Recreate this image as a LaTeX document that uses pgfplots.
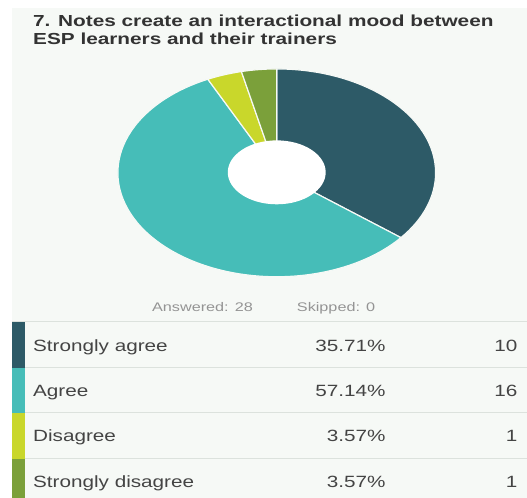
\documentclass[border=0pt]{standalone}
\usepackage{pgfplots}
\usepackage{pgfplotstable}
\pgfplotsset{compat=1.18}
\usepackage{fontspec}
\setmainfont{Liberation Sans}
\definecolor{bgc}{HTML}{F6F9F6}
\definecolor{cSA}{HTML}{2D5A67}
\definecolor{cA}{HTML}{46BDB8}
\definecolor{cD}{HTML}{C9D72B}
\definecolor{cSD}{HTML}{7BA03A}
\definecolor{titlec}{HTML}{333333}
\definecolor{txt}{HTML}{444444}
\definecolor{sep}{HTML}{DCE2DD}
\pgfplotstableread{
label count
SA 10
A 16
D 1
SD 1
}\data
\newcommand{\rowtext}[1]{\fontsize{16.3bp}{18bp}\selectfont\scalebox{1.27}[1]{#1}}
\newcommand{\smalltext}[1]{\fontsize{12.5bp}{14bp}\selectfont\scalebox{1.3}[1]{#1}}
\newcommand{\titletext}[1]{\fontsize{16bp}{18bp}\selectfont\bfseries\scalebox{1.3}[1]{#1}}
\begin{document}
\begin{tikzpicture}
\pgfplotstablegetelem{0}{count}\of\data \let\cSA\pgfplotsretval
\pgfplotstablegetelem{1}{count}\of\data \let\cAg\pgfplotsretval
\pgfplotstablegetelem{2}{count}\of\data \let\cDi\pgfplotsretval
\pgfplotstablegetelem{3}{count}\of\data \let\cSD\pgfplotsretval
\pgfmathsetmacro\tot{\cSA+\cAg+\cDi+\cSD}
\pgfmathsetmacro\aZ{90}
\pgfmathsetmacro\aA{\aZ-360*\cSA/\tot}
\pgfmathsetmacro\aB{\aA-360*\cAg/\tot}
\pgfmathsetmacro\aC{\aB-360*\cDi/\tot}
\pgfmathsetmacro\aD{\aC-360*\cSD/\tot}
\begin{axis}[
  width=527bp, height=498bp, scale only axis,
  xmin=0, xmax=527, ymin=0, ymax=498, y dir=reverse,
  hide axis, clip=false]
\fill[white] (axis cs:0,0) rectangle (axis cs:527,498);
\fill[bgc] (axis cs:12,8) rectangle (axis cs:527,498);
% title
\node[anchor=base west, inner sep=0pt, text=titlec] at (axis cs:33,27) {\titletext{7. Notes create an interactional mood between}};
\node[anchor=base west, inner sep=0pt, text=titlec] at (axis cs:33,45) {\titletext{ESP learners and their trainers}};
% donut
\fill[cSA, draw=bgc, line width=1.2pt] (axis cs:277,173) -- ++(\aZ:159bp and 104bp) arc[start angle=\aZ, end angle=\aA, x radius=159bp, y radius=104bp] -- cycle;
\fill[cA, draw=bgc, line width=1.2pt] (axis cs:277,173) -- ++(\aA:159bp and 104bp) arc[start angle=\aA, end angle=\aB, x radius=159bp, y radius=104bp] -- cycle;
\fill[cD, draw=bgc, line width=1.2pt] (axis cs:277,173) -- ++(\aB:159bp and 104bp) arc[start angle=\aB, end angle=\aC, x radius=159bp, y radius=104bp] -- cycle;
\fill[cSD, draw=bgc, line width=1.2pt] (axis cs:277,173) -- ++(\aC:159bp and 104bp) arc[start angle=\aC, end angle=\aD, x radius=159bp, y radius=104bp] -- cycle;
\fill[white] (axis cs:277,172.5) ellipse[x radius=49bp, y radius=32bp];
% answered / skipped
\node[anchor=base west, inner sep=0pt, text=black!42] at (axis cs:152,312) {\smalltext{Answered: 28}};
\node[anchor=base west, inner sep=0pt, text=black!42] at (axis cs:297,312) {\smalltext{Skipped: 0}};
% table separators
\draw[sep, line width=1pt] (axis cs:12,322) -- (axis cs:527,322);
\draw[sep, line width=1pt] (axis cs:12,368) -- (axis cs:527,368);
\draw[sep, line width=1pt] (axis cs:12,413) -- (axis cs:527,413);
\draw[sep, line width=1pt] (axis cs:12,459) -- (axis cs:527,459);
% color bars
\fill[cSA] (axis cs:12,322) rectangle (axis cs:25,368);
\fill[cA] (axis cs:12,368) rectangle (axis cs:25,413);
\fill[cD] (axis cs:12,413) rectangle (axis cs:25,459);
\fill[cSD] (axis cs:12,459) rectangle (axis cs:25,498);
% rows
\node[anchor=base west, inner sep=0pt, text=txt] at (axis cs:33,352) {\rowtext{Strongly agree}};
\node[anchor=base west, inner sep=0pt, text=txt] at (axis cs:33,397) {\rowtext{Agree}};
\node[anchor=base west, inner sep=0pt, text=txt] at (axis cs:33,442) {\rowtext{Disagree}};
\node[anchor=base west, inner sep=0pt, text=txt] at (axis cs:33,488) {\rowtext{Strongly disagree}};
\node[anchor=base east, inner sep=0pt, text=txt] at (axis cs:386,352) {\rowtext{35.71\%}};
\node[anchor=base east, inner sep=0pt, text=txt] at (axis cs:386,397) {\rowtext{57.14\%}};
\node[anchor=base east, inner sep=0pt, text=txt] at (axis cs:386,442) {\rowtext{3.57\%}};
\node[anchor=base east, inner sep=0pt, text=txt] at (axis cs:386,488) {\rowtext{3.57\%}};
\node[anchor=base east, inner sep=0pt, text=txt] at (axis cs:518,352) {\rowtext{10}};
\node[anchor=base east, inner sep=0pt, text=txt] at (axis cs:518,397) {\rowtext{16}};
\node[anchor=base east, inner sep=0pt, text=txt] at (axis cs:518,442) {\rowtext{1}};
\node[anchor=base east, inner sep=0pt, text=txt] at (axis cs:518,488) {\rowtext{1}};
\end{axis}
\end{tikzpicture}
\end{document}
